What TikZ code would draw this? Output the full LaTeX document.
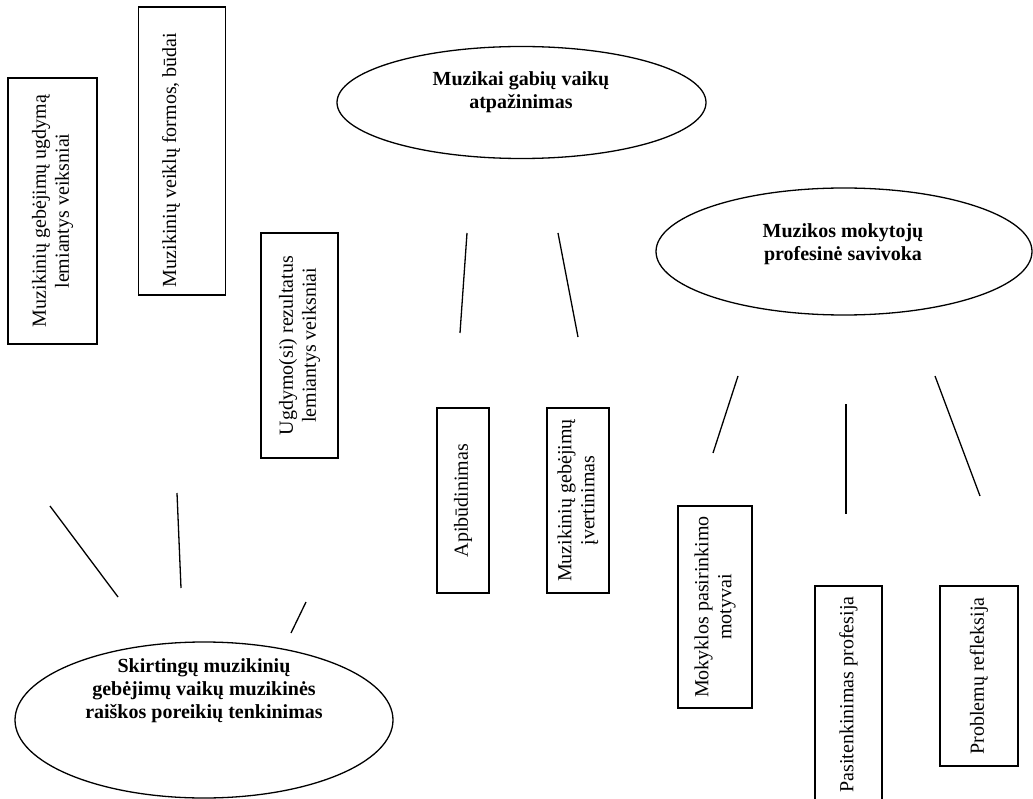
\documentclass[tikz,border=0pt]{standalone}
\usepackage{fontspec}
\setmainfont{Liberation Serif}
\usetikzlibrary{shapes.geometric}
\begin{document}
\begin{tikzpicture}[x=1pt,y=-1pt,
  box/.style={draw, line width=1.3pt, rotate=90, inner sep=0pt, align=center,
    font=\fontsize{20}{23}\selectfont},
  oval/.style={draw, ellipse, line width=1.3pt, inner sep=0pt},
  ovaltext/.style={align=center, inner sep=0pt, font=\fontsize{20}{23}\selectfont\bfseries},
  link/.style={line width=1.3pt}]
\useasboundingbox (0,0) rectangle (1033,799);
\fill[white] (0,0) rectangle (1033,799);
\clip (0,0) rectangle (1033,799);

% rotated boxes
\node[box, minimum width=266pt, minimum height=89pt] (A) at (52.5,211)
  {Muzikinių gebėjimų ugdymą\\lemiantys veiksniai};
\node[box, minimum width=288pt, minimum height=87pt] (B) at (182,151)
  {\raisebox{6pt}[0pt][0pt]{Muzikinių veiklų formos, būdai}\hspace*{18pt}};
\node[box, minimum width=225pt, minimum height=77pt] (C) at (299.5,345.5)
  {Ugdymo(si) rezultatus\\lemiantys veiksniai};
\node[box, minimum width=185pt, minimum height=52pt] (D) at (463,500.5)
  {Apibūdinimas};
\node[box, minimum width=185pt, minimum height=62pt] (E) at (578,500.5)
  {Muzikinių gebėjimų\\įvertinimas};
\node[box, minimum width=202pt, minimum height=74pt] (F) at (715,607)
  {Mokyklos pasirinkimo\\motyvai};
\node[box, minimum width=217pt, minimum height=67pt] (G) at (848.5,694.5)
  {Pasitenkinimas profesija};
\node[box, minimum width=180pt, minimum height=78pt] (H) at (979,676)
  {Problemų refleksija};

% ellipses
\node[oval, minimum width=369pt, minimum height=112pt] (P1) at (521.5,102.5) {};
\node[ovaltext] (T1) at (521,92) {Muzikai gabių vaikų\\atpažinimas};
\node[oval, minimum width=376pt, minimum height=127pt] (P2) at (844,251.5) {};
\node[ovaltext] (T2) at (843,244) {Muzikos mokytojų\\profesinė savivoka};
\node[oval, minimum width=378pt, minimum height=156pt] (P3) at (204,720) {};
\node[ovaltext] (T3) at (204,691) {Skirtingų muzikinių\\gebėjimų vaikų muzikinės\\raiškos poreikių tenkinimas};

% free line segments
\coordinate (a1) at (467,233); \coordinate (a2) at (460,333);
\coordinate (b1) at (558,233); \coordinate (b2) at (578,337);
\coordinate (c1) at (738,376); \coordinate (c2) at (713,453);
\coordinate (d1) at (846,404); \coordinate (d2) at (846,514);
\coordinate (e1) at (935,376); \coordinate (e2) at (980,496);
\coordinate (f1) at (50,506);  \coordinate (f2) at (118,597);
\coordinate (g1) at (177,493); \coordinate (g2) at (181,588);
\coordinate (h1) at (306,602); \coordinate (h2) at (291,633);
\draw[link] (a1) -- (a2);
\draw[link] (b1) -- (b2);
\draw[link] (c1) -- (c2);
\draw[link] (d1) -- (d2);
\draw[link] (e1) -- (e2);
\draw[link] (f1) -- (f2);
\draw[link] (g1) -- (g2);
\draw[link] (h1) -- (h2);
\end{tikzpicture}
\end{document}
